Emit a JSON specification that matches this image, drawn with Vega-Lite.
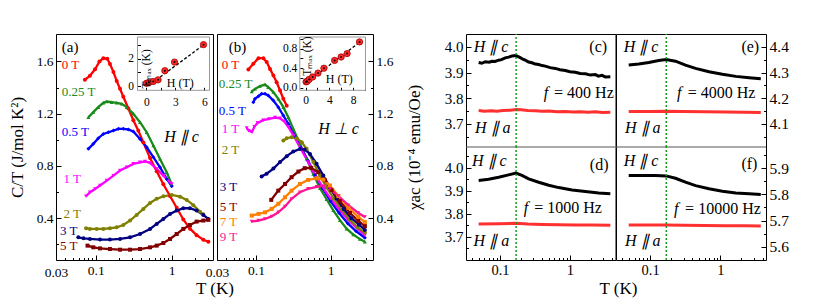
{
"$schema": "https://vega.github.io/schema/vega-lite/v6.json",
"background": "white",
"padding": {"left": 8, "top": 32, "right": 2, "bottom": 2},
"spacing": 0,
"bounds": "flush",
"config": {
  "font": "Liberation Serif, Times New Roman, serif",
  "view": {"stroke": "black", "strokeWidth": 1},
  "axis": {"grid": false, "domain": false, "labelFont": "Liberation Serif, Times New Roman, serif", "titleFont": "Liberation Serif, Times New Roman, serif", "labelColor": "black", "titleColor": "black", "tickColor": "black", "labelFontSize": 13.5, "titleFontSize": 17, "titleFontWeight": "normal", "tickSize": -4, "labelPadding": 8, "labelFlush": false, "labelOverlap": false, "tickWidth": 1},
  "text": {"font": "Liberation Serif, Times New Roman, serif"}
},
"datasets": {
 "a": [
  {"s":"0 T","T":0.072,"v":1.46},{"s":"0 T","T":0.084,"v":1.49},{"s":"0 T","T":0.098,"v":1.54},{"s":"0 T","T":0.112,"v":1.6},{"s":"0 T","T":0.126,"v":1.625},{"s":"0 T","T":0.142,"v":1.62},{"s":"0 T","T":0.154,"v":1.58},{"s":"0 T","T":0.171,"v":1.52},{"s":"0 T","T":0.189,"v":1.45},{"s":"0 T","T":0.209,"v":1.39},{"s":"0 T","T":0.231,"v":1.33},{"s":"0 T","T":0.269,"v":1.24},{"s":"0 T","T":0.313,"v":1.15},{"s":"0 T","T":0.364,"v":1.07},{"s":"0 T","T":0.424,"v":0.98},{"s":"0 T","T":0.519,"v":0.86},{"s":"0 T","T":0.635,"v":0.76},{"s":"0 T","T":0.777,"v":0.66},{"s":"0 T","T":0.951,"v":0.57},{"s":"0 T","T":1.164,"v":0.48},{"s":"0 T","T":1.424,"v":0.39},{"s":"0 T","T":1.74,"v":0.32},{"s":"0 T","T":2.13,"v":0.27},{"s":"0 T","T":2.61,"v":0.235},{"s":"0 T","T":3.04,"v":0.22},
  {"s":"0.25 T","T":0.08,"v":1.173},{"s":"0.25 T","T":0.093,"v":1.212},{"s":"0.25 T","T":0.108,"v":1.25},{"s":"0.25 T","T":0.126,"v":1.283},{"s":"0.25 T","T":0.14,"v":1.293},{"s":"0.25 T","T":0.162,"v":1.288},{"s":"0.25 T","T":0.189,"v":1.283},{"s":"0.25 T","T":0.22,"v":1.275},{"s":"0.25 T","T":0.256,"v":1.25},{"s":"0.25 T","T":0.313,"v":1.199},{"s":"0.25 T","T":0.383,"v":1.135},{"s":"0.25 T","T":0.469,"v":1.058},{"s":"0.25 T","T":0.574,"v":0.956},{"s":"0.25 T","T":0.702,"v":0.854},{"s":"0.25 T","T":0.86,"v":0.752},{"s":"0.25 T","T":1.0,"v":0.66},
  {"s":"0.5 T","T":0.08,"v":0.931},{"s":"0.5 T","T":0.093,"v":0.969},{"s":"0.5 T","T":0.108,"v":1.012},{"s":"0.5 T","T":0.126,"v":1.045},{"s":"0.5 T","T":0.147,"v":1.058},{"s":"0.5 T","T":0.171,"v":1.071},{"s":"0.5 T","T":0.199,"v":1.084},{"s":"0.5 T","T":0.231,"v":1.084},{"s":"0.5 T","T":0.269,"v":1.079},{"s":"0.5 T","T":0.313,"v":1.063},{"s":"0.5 T","T":0.383,"v":1.007},{"s":"0.5 T","T":0.469,"v":0.943},{"s":"0.5 T","T":0.574,"v":0.867},{"s":"0.5 T","T":0.702,"v":0.79},{"s":"0.5 T","T":0.86,"v":0.701},{"s":"0.5 T","T":1.0,"v":0.645},
  {"s":"1 T","T":0.0746,"v":0.568},{"s":"1 T","T":0.084,"v":0.599},{"s":"1 T","T":0.098,"v":0.624},{"s":"1 T","T":0.114,"v":0.65},{"s":"1 T","T":0.14,"v":0.688},{"s":"1 T","T":0.171,"v":0.726},{"s":"1 T","T":0.209,"v":0.765},{"s":"1 T","T":0.256,"v":0.79},{"s":"1 T","T":0.313,"v":0.816},{"s":"1 T","T":0.383,"v":0.828},{"s":"1 T","T":0.446,"v":0.834},{"s":"1 T","T":0.519,"v":0.823},{"s":"1 T","T":0.635,"v":0.777},{"s":"1 T","T":0.777,"v":0.726},{"s":"1 T","T":1.0,"v":0.662},
  {"s":"2 T","T":0.0746,"v":0.323},{"s":"2 T","T":0.084,"v":0.318},{"s":"2 T","T":0.103,"v":0.318},{"s":"2 T","T":0.126,"v":0.318},{"s":"2 T","T":0.154,"v":0.323},{"s":"2 T","T":0.189,"v":0.33},{"s":"2 T","T":0.231,"v":0.348},{"s":"2 T","T":0.283,"v":0.382},{"s":"2 T","T":0.346,"v":0.425},{"s":"2 T","T":0.424,"v":0.471},{"s":"2 T","T":0.519,"v":0.517},{"s":"2 T","T":0.635,"v":0.548},{"s":"2 T","T":0.777,"v":0.568},{"s":"2 T","T":1.0,"v":0.578},{"s":"2 T","T":1.29,"v":0.565},{"s":"2 T","T":1.58,"v":0.54},{"s":"2 T","T":1.93,"v":0.5},{"s":"2 T","T":2.36,"v":0.45},{"s":"2 T","T":2.6,"v":0.43},
  {"s":"3 T","T":0.059,"v":0.254},{"s":"3 T","T":0.069,"v":0.246},{"s":"3 T","T":0.084,"v":0.241},{"s":"3 T","T":0.114,"v":0.236},{"s":"3 T","T":0.154,"v":0.236},{"s":"3 T","T":0.209,"v":0.241},{"s":"3 T","T":0.283,"v":0.254},{"s":"3 T","T":0.383,"v":0.279},{"s":"3 T","T":0.519,"v":0.318},{"s":"3 T","T":0.635,"v":0.356},{"s":"3 T","T":0.777,"v":0.394},{"s":"3 T","T":0.951,"v":0.433},{"s":"3 T","T":1.164,"v":0.458},{"s":"3 T","T":1.424,"v":0.476},{"s":"3 T","T":1.74,"v":0.476},{"s":"3 T","T":2.13,"v":0.458},{"s":"3 T","T":2.61,"v":0.425},{"s":"3 T","T":3.04,"v":0.394},
  {"s":"5 T","T":0.078,"v":0.19},{"s":"5 T","T":0.093,"v":0.177},{"s":"5 T","T":0.114,"v":0.169},{"s":"5 T","T":0.154,"v":0.164},{"s":"5 T","T":0.209,"v":0.159},{"s":"5 T","T":0.283,"v":0.159},{"s":"5 T","T":0.383,"v":0.164},{"s":"5 T","T":0.519,"v":0.177},{"s":"5 T","T":0.635,"v":0.19},{"s":"5 T","T":0.777,"v":0.21},{"s":"5 T","T":0.951,"v":0.241},{"s":"5 T","T":1.164,"v":0.279},{"s":"5 T","T":1.424,"v":0.318},{"s":"5 T","T":1.74,"v":0.348},{"s":"5 T","T":2.13,"v":0.374},{"s":"5 T","T":2.61,"v":0.382},{"s":"5 T","T":3.04,"v":0.387}
 ],
 "alab": [
  {"s":"0 T","label":"0 T","T":0.0357,"v":1.575},{"s":"0.25 T","label":"0.25 T","T":0.0357,"v":1.365},{"s":"0.5 T","label":"0.5 T","T":0.0357,"v":1.062},{"s":"1 T","label":"1 T","T":0.0376,"v":0.698},{"s":"2 T","label":"2 T","T":0.0376,"v":0.43},{"s":"3 T","label":"3 T","T":0.0339,"v":0.3},{"s":"5 T","label":"5 T","T":0.0339,"v":0.185}
 ],
 "b": [
  {"s":"0 T","T":0.079,"v":1.538},{"s":"0 T","T":0.092,"v":1.582},{"s":"0 T","T":0.108,"v":1.625},{"s":"0 T","T":0.1255,"v":1.625},{"s":"0 T","T":0.139,"v":1.595},{"s":"0 T","T":0.154,"v":1.543},{"s":"0 T","T":0.171,"v":1.492},{"s":"0 T","T":0.189,"v":1.441},{"s":"0 T","T":0.21,"v":1.378},{"s":"0 T","T":0.2325,"v":1.314},{"s":"0 T","T":0.258,"v":1.26},
  {"s":"0.25 T","T":0.0876,"v":1.37},{"s":"0.25 T","T":0.097,"v":1.39},{"s":"0.25 T","T":0.113,"v":1.411},{"s":"0.25 T","T":0.132,"v":1.423},{"s":"0.25 T","T":0.146,"v":1.403},{"s":"0.25 T","T":0.171,"v":1.365},{"s":"0.25 T","T":0.199,"v":1.314},{"s":"0.25 T","T":0.2325,"v":1.25},{"s":"0.25 T","T":0.271,"v":1.173},{"s":"0.25 T","T":0.316,"v":1.084},{"s":"0.25 T","T":0.389,"v":0.969},{"s":"0.25 T","T":0.477,"v":0.854},{"s":"0.25 T","T":0.586,"v":0.739},{"s":"0.25 T","T":0.72,"v":0.63},{"s":"0.25 T","T":0.884,"v":0.545},{"s":"0.25 T","T":1.086,"v":0.46},{"s":"0.25 T","T":1.334,"v":0.385},{"s":"0.25 T","T":1.638,"v":0.32},{"s":"0.25 T","T":2.012,"v":0.275},{"s":"0.25 T","T":2.47,"v":0.24},{"s":"0.25 T","T":2.88,"v":0.22},
  {"s":"0.5 T","T":0.092,"v":1.288},{"s":"0.5 T","T":0.097,"v":1.314},{"s":"0.5 T","T":0.108,"v":1.334},{"s":"0.5 T","T":0.119,"v":1.352},{"s":"0.5 T","T":0.132,"v":1.352},{"s":"0.5 T","T":0.146,"v":1.339},{"s":"0.5 T","T":0.171,"v":1.3},{"s":"0.5 T","T":0.199,"v":1.25},{"s":"0.5 T","T":0.2325,"v":1.186},{"s":"0.5 T","T":0.271,"v":1.122},{"s":"0.5 T","T":0.33,"v":1.03},{"s":"0.5 T","T":0.4,"v":0.94},{"s":"0.5 T","T":0.5,"v":0.84},{"s":"0.5 T","T":0.62,"v":0.73},{"s":"0.5 T","T":0.78,"v":0.63},{"s":"0.5 T","T":1.0,"v":0.53},{"s":"0.5 T","T":1.3,"v":0.44},{"s":"0.5 T","T":1.7,"v":0.36},{"s":"0.5 T","T":2.2,"v":0.3},{"s":"0.5 T","T":2.88,"v":0.25},
  {"s":"1 T","T":0.075,"v":1.09},{"s":"1 T","T":0.08,"v":1.07},{"s":"1 T","T":0.088,"v":1.06},{"s":"1 T","T":0.095,"v":1.1},{"s":"1 T","T":0.105,"v":1.13},{"s":"1 T","T":0.125,"v":1.15},{"s":"1 T","T":0.15,"v":1.16},{"s":"1 T","T":0.18,"v":1.17},{"s":"1 T","T":0.21,"v":1.165},{"s":"1 T","T":0.24,"v":1.14},{"s":"1 T","T":0.27,"v":1.1},{"s":"1 T","T":0.32,"v":1.03},{"s":"1 T","T":0.4,"v":0.93},{"s":"1 T","T":0.5,"v":0.83},{"s":"1 T","T":0.65,"v":0.71},{"s":"1 T","T":0.8,"v":0.63},{"s":"1 T","T":1.0,"v":0.55},{"s":"1 T","T":1.3,"v":0.47},{"s":"1 T","T":1.7,"v":0.39},{"s":"1 T","T":2.2,"v":0.33},{"s":"1 T","T":2.88,"v":0.27},
  {"s":"2 T","T":0.2325,"v":0.994},{"s":"2 T","T":0.258,"v":1.012},{"s":"2 T","T":0.3,"v":1.02},{"s":"2 T","T":0.351,"v":1.012},{"s":"2 T","T":0.41,"v":0.982},{"s":"2 T","T":0.477,"v":0.931},{"s":"2 T","T":0.586,"v":0.83},{"s":"2 T","T":0.72,"v":0.726},{"s":"2 T","T":0.884,"v":0.635},{"s":"2 T","T":1.1,"v":0.55},{"s":"2 T","T":1.4,"v":0.47},{"s":"2 T","T":1.8,"v":0.39},{"s":"2 T","T":2.3,"v":0.33},{"s":"2 T","T":2.88,"v":0.29},
  {"s":"3 T","T":0.119,"v":0.72},{"s":"3 T","T":0.139,"v":0.74},{"s":"3 T","T":0.171,"v":0.78},{"s":"3 T","T":0.21,"v":0.83},{"s":"3 T","T":0.258,"v":0.875},{"s":"3 T","T":0.316,"v":0.91},{"s":"3 T","T":0.389,"v":0.93},{"s":"3 T","T":0.45,"v":0.925},{"s":"3 T","T":0.529,"v":0.892},{"s":"3 T","T":0.649,"v":0.816},{"s":"3 T","T":0.798,"v":0.726},{"s":"3 T","T":0.98,"v":0.635},{"s":"3 T","T":1.2,"v":0.55},{"s":"3 T","T":1.5,"v":0.47},{"s":"3 T","T":1.9,"v":0.4},{"s":"3 T","T":2.4,"v":0.35},{"s":"3 T","T":2.88,"v":0.31},
  {"s":"5 T","T":0.16,"v":0.54},{"s":"5 T","T":0.199,"v":0.611},{"s":"5 T","T":0.245,"v":0.662},{"s":"5 T","T":0.3,"v":0.714},{"s":"5 T","T":0.37,"v":0.757},{"s":"5 T","T":0.45,"v":0.783},{"s":"5 T","T":0.55,"v":0.785},{"s":"5 T","T":0.68,"v":0.752},{"s":"5 T","T":0.84,"v":0.69},{"s":"5 T","T":1.03,"v":0.615},{"s":"5 T","T":1.33,"v":0.53},{"s":"5 T","T":1.82,"v":0.44},{"s":"5 T","T":2.35,"v":0.38},{"s":"5 T","T":2.88,"v":0.34},
  {"s":"7 T","T":0.0876,"v":0.42},{"s":"7 T","T":0.108,"v":0.433},{"s":"7 T","T":0.132,"v":0.445},{"s":"7 T","T":0.162,"v":0.471},{"s":"7 T","T":0.199,"v":0.51},{"s":"7 T","T":0.245,"v":0.56},{"s":"7 T","T":0.3,"v":0.611},{"s":"7 T","T":0.389,"v":0.662},{"s":"7 T","T":0.5,"v":0.693},{"s":"7 T","T":0.649,"v":0.705},{"s":"7 T","T":0.798,"v":0.695},{"s":"7 T","T":0.98,"v":0.65},{"s":"7 T","T":1.27,"v":0.57},{"s":"7 T","T":1.73,"v":0.48},{"s":"7 T","T":2.35,"v":0.41},{"s":"7 T","T":2.88,"v":0.37},
  {"s":"9 T","T":0.0876,"v":0.374},{"s":"9 T","T":0.108,"v":0.382},{"s":"9 T","T":0.132,"v":0.394},{"s":"9 T","T":0.162,"v":0.414},{"s":"9 T","T":0.199,"v":0.445},{"s":"9 T","T":0.245,"v":0.49},{"s":"9 T","T":0.3,"v":0.548},{"s":"9 T","T":0.389,"v":0.599},{"s":"9 T","T":0.5,"v":0.625},{"s":"9 T","T":0.649,"v":0.64},{"s":"9 T","T":0.8,"v":0.645},{"s":"9 T","T":0.98,"v":0.625},{"s":"9 T","T":1.27,"v":0.57},{"s":"9 T","T":1.73,"v":0.5},{"s":"9 T","T":2.35,"v":0.44},{"s":"9 T","T":2.88,"v":0.41}
 ],
 "blab": [
  {"s":"0 T","label":"0 T","T":0.0348,"v":1.572},{"s":"0.25 T","label":"0.25 T","T":0.0317,"v":1.426},{"s":"0.5 T","label":"0.5 T","T":0.0317,"v":1.219},{"s":"1 T","label":"1 T","T":0.0348,"v":1.085},{"s":"2 T","label":"2 T","T":0.0348,"v":0.92},{"s":"3 T","label":"3 T","T":0.0327,"v":0.641},{"s":"5 T","label":"5 T","T":0.0327,"v":0.488},{"s":"7 T","label":"7 T","T":0.0327,"v":0.373},{"s":"9 T","label":"9 T","T":0.0327,"v":0.258}
 ],
 "ia": [{"H":0,"Tm":0.2},{"H":0.25,"Tm":0.25},{"H":0.7,"Tm":0.33},{"H":1.2,"Tm":0.45},{"H":1.9,"Tm":1.12},{"H":2.9,"Tm":1.75},{"H":5.9,"Tm":3.03}],
 "ib": [{"H":0.1,"Tm":0.12},{"H":0.25,"Tm":0.13},{"H":0.6,"Tm":0.17},{"H":1.2,"Tm":0.22},{"H":2.1,"Tm":0.3},{"H":3.1,"Tm":0.4},{"H":4.9,"Tm":0.56},{"H":6.0,"Tm":0.63},{"H":7.0,"Tm":0.7},{"H":9.1,"Tm":0.94}],
 "c": [
  {"s":"Hc","T":0.0496,"v":3.939},{"s":"Hc","T":0.055,"v":3.936},{"s":"Hc","T":0.0617,"v":3.942},{"s":"Hc","T":0.07,"v":3.94},{"s":"Hc","T":0.0769,"v":3.944},{"s":"Hc","T":0.085,"v":3.943},{"s":"Hc","T":0.0958,"v":3.948},{"s":"Hc","T":0.105,"v":3.95},{"s":"Hc","T":0.119,"v":3.957},{"s":"Hc","T":0.133,"v":3.96},{"s":"Hc","T":0.148,"v":3.964},{"s":"Hc","T":0.169,"v":3.966},{"s":"Hc","T":0.182,"v":3.962},{"s":"Hc","T":0.195,"v":3.958},{"s":"Hc","T":0.212,"v":3.952},{"s":"Hc","T":0.23,"v":3.948},{"s":"Hc","T":0.256,"v":3.941},{"s":"Hc","T":0.286,"v":3.938},{"s":"Hc","T":0.32,"v":3.933},{"s":"Hc","T":0.357,"v":3.931},{"s":"Hc","T":0.4,"v":3.927},{"s":"Hc","T":0.444,"v":3.925},{"s":"Hc","T":0.52,"v":3.919},{"s":"Hc","T":0.617,"v":3.916},{"s":"Hc","T":0.72,"v":3.911},{"s":"Hc","T":0.857,"v":3.908},{"s":"Hc","T":1.0,"v":3.903},{"s":"Hc","T":1.19,"v":3.901},{"s":"Hc","T":1.4,"v":3.896},{"s":"Hc","T":1.66,"v":3.895},{"s":"Hc","T":1.95,"v":3.89},{"s":"Hc","T":2.3,"v":3.892},{"s":"Hc","T":2.55,"v":3.886},{"s":"Hc","T":2.86,"v":3.889},{"s":"Hc","T":3.2,"v":3.883},{"s":"Hc","T":3.77,"v":3.884},
  {"s":"Ha","T":0.0496,"v":3.752},{"s":"Ha","T":0.06,"v":3.749},{"s":"Ha","T":0.075,"v":3.751},{"s":"Ha","T":0.09,"v":3.749},{"s":"Ha","T":0.11,"v":3.752},{"s":"Ha","T":0.14,"v":3.753},{"s":"Ha","T":0.17,"v":3.756},{"s":"Ha","T":0.2,"v":3.755},{"s":"Ha","T":0.25,"v":3.752},{"s":"Ha","T":0.32,"v":3.751},{"s":"Ha","T":0.4,"v":3.749},{"s":"Ha","T":0.5,"v":3.75},{"s":"Ha","T":0.65,"v":3.747},{"s":"Ha","T":0.85,"v":3.748},{"s":"Ha","T":1.1,"v":3.746},{"s":"Ha","T":1.4,"v":3.747},{"s":"Ha","T":1.8,"v":3.745},{"s":"Ha","T":2.3,"v":3.747},{"s":"Ha","T":2.9,"v":3.744},{"s":"Ha","T":3.77,"v":3.745}
 ],
 "d": [
  {"s":"Hc","T":0.0496,"v":3.945},{"s":"Hc","T":0.0689,"v":3.95},{"s":"Hc","T":0.0958,"v":3.959},{"s":"Hc","T":0.133,"v":3.969},{"s":"Hc","T":0.169,"v":3.977},{"s":"Hc","T":0.206,"v":3.967},{"s":"Hc","T":0.257,"v":3.952},{"s":"Hc","T":0.357,"v":3.937},{"s":"Hc","T":0.497,"v":3.924},{"s":"Hc","T":0.69,"v":3.914},{"s":"Hc","T":1.07,"v":3.904},{"s":"Hc","T":1.66,"v":3.897},{"s":"Hc","T":2.57,"v":3.891},{"s":"Hc","T":3.77,"v":3.887},
  {"s":"Ha","T":0.0496,"v":3.756},{"s":"Ha","T":0.1,"v":3.757},{"s":"Ha","T":0.17,"v":3.759},{"s":"Ha","T":0.25,"v":3.756},{"s":"Ha","T":0.4,"v":3.754},{"s":"Ha","T":0.7,"v":3.753},{"s":"Ha","T":1.2,"v":3.752},{"s":"Ha","T":2.0,"v":3.752},{"s":"Ha","T":3.77,"v":3.751}
 ],
 "e": [
  {"s":"Hc","T":0.0496,"v":4.329},{"s":"Hc","T":0.069,"v":4.333},{"s":"Hc","T":0.0957,"v":4.339},{"s":"Hc","T":0.133,"v":4.347},{"s":"Hc","T":0.169,"v":4.351},{"s":"Hc","T":0.23,"v":4.344},{"s":"Hc","T":0.319,"v":4.329},{"s":"Hc","T":0.444,"v":4.316},{"s":"Hc","T":0.69,"v":4.303},{"s":"Hc","T":1.07,"v":4.293},{"s":"Hc","T":1.66,"v":4.285},{"s":"Hc","T":2.57,"v":4.28},{"s":"Hc","T":3.77,"v":4.276},
  {"s":"Ha","T":0.0496,"v":4.148},{"s":"Ha","T":0.1,"v":4.148},{"s":"Ha","T":0.17,"v":4.149},{"s":"Ha","T":0.3,"v":4.148},{"s":"Ha","T":0.6,"v":4.147},{"s":"Ha","T":1.2,"v":4.146},{"s":"Ha","T":2.2,"v":4.145},{"s":"Ha","T":3.77,"v":4.144}
 ],
 "f": [
  {"s":"Hc","T":0.0496,"v":5.872},{"s":"Hc","T":0.0769,"v":5.872},{"s":"Hc","T":0.119,"v":5.872},{"s":"Hc","T":0.169,"v":5.87},{"s":"Hc","T":0.23,"v":5.861},{"s":"Hc","T":0.319,"v":5.846},{"s":"Hc","T":0.444,"v":5.833},{"s":"Hc","T":0.69,"v":5.821},{"s":"Hc","T":1.07,"v":5.812},{"s":"Hc","T":1.66,"v":5.805},{"s":"Hc","T":2.57,"v":5.802},{"s":"Hc","T":3.77,"v":5.799},
  {"s":"Ha","T":0.0496,"v":5.683},{"s":"Ha","T":0.1,"v":5.683},{"s":"Ha","T":0.17,"v":5.683},{"s":"Ha","T":0.3,"v":5.682},{"s":"Ha","T":0.6,"v":5.681},{"s":"Ha","T":1.2,"v":5.68},{"s":"Ha","T":2.2,"v":5.68},{"s":"Ha","T":3.77,"v":5.679}
 ]
},
"hconcat": [
 {
  "width": 157, "height": 226,
  "layer": [
   {
    "data": {"name": "a"},
    "encoding": {
     "x": {"field": "T", "type": "quantitative", "scale": {"type": "log", "domain": [0.03, 3.5], "nice": false},
       "axis": {"orient": "bottom", "values": [0.03,0.04,0.05,0.06,0.07,0.08,0.09,0.1,0.2,0.3,0.4,0.5,0.6,0.7,0.8,0.9,1,2,3], "labelExpr": "datum.value == 0.03 ? '0.03' : datum.value == 0.1 ? '0.1' : datum.value == 1 ? '1' : ''", "tickSize": {"condition": {"test": "datum.value == 0.1 || datum.value == 1", "value": -5}, "value": -2.5}, "title": "T (K)", "titleX": 158.5, "titleY": 28, "titleBaseline": "middle", "titleAlign": "center"}},
     "y": {"field": "v", "type": "quantitative", "scale": {"domain": [0.08, 1.81], "nice": false, "zero": false},
       "axis": {"orient": "left", "values": [0.2,0.4,0.6,0.8,1.0,1.2,1.4,1.6], "labelExpr": "indexof([0.4,0.8,1.2,1.6], datum.value) >= 0 ? format(datum.value, '.1f') : ''", "tickSize": {"condition": {"test": "indexof([0.4,0.8,1.2,1.6], datum.value) >= 0", "value": -5}, "value": -2.5}, "title": "C/T (J/mol K²)", "titleX": -29.5, "titleY": 113, "titleAngle": 270, "titleBaseline": "bottom", "titleAlign": "center"}},
     "color": {"field": "s", "type": "nominal", "scale": {"domain": ["0 T","0.25 T","0.5 T","1 T","2 T","3 T","5 T","7 T","9 T","Hc","Ha"], "range": ["#ff0000","#1a8a1a","#0000ff","#ff00ff","#808000","#000080","#800000","#ff8000","#ff1493","#000000","#ff3030"]}, "legend": null}
    },
    "layer": [
     {"mark": {"type": "line", "strokeWidth": 2.3}},
     {"mark": {"type": "point", "filled": true, "size": 16, "opacity": 1}, "encoding": {"shape": {"field": "s", "type": "nominal", "scale": {"domain": ["0 T","0.25 T","0.5 T","1 T","2 T","3 T","5 T","7 T","9 T"], "range": ["circle","triangle-up","diamond","triangle-down","circle","circle","square","square","triangle-down"]}, "legend": null}}},
     {"data": {"name": "alab"}, "mark": {"type": "text", "align": "left", "baseline": "middle", "fontSize": 13}, "encoding": {"text": {"field": "label"}}},
     {"data": {"values": [{"T": 0.0357, "v": 1.713, "label": "(a)"}]}, "mark": {"type": "text", "align": "left", "baseline": "middle", "fontSize": 15}, "encoding": {"text": {"field": "label"}, "color": {"value": "black"}}},
     {"data": {"values": [{"T": 1.35, "v": 1.02, "label": "H ∥ c"}]}, "mark": {"type": "text", "align": "center", "baseline": "middle", "fontSize": 16, "fontStyle": "italic"}, "encoding": {"text": {"field": "label"}, "color": {"value": "black"}}}
    ]
   },
   {
    "data": {"name": "ia"},
    "encoding": {
     "x": {"field": "H", "type": "quantitative", "scale": {"domain": [-0.93, 6.52], "range": [81.5, 153.5], "nice": false, "zero": false}, "axis": {"orient": "bottom", "offset": -169.7, "values": [0, 1.5, 3, 4.5, 6], "labelExpr": "datum.value % 3 == 0 ? format(datum.value, 'd') : ''", "title": null, "labelFontSize": 11.5, "tickSize": -3, "labelPadding": 9}},
     "y": {"field": "Tm", "type": "quantitative", "scale": {"domain": [-0.315, 3.59], "range": [56.3, 3], "nice": false, "zero": false}, "axis": {"orient": "left", "offset": -81.5, "values": [0, 1, 2, 3], "labelExpr": "datum.value % 2 == 0 ? format(datum.value, 'd') : ''", "title": null, "labelFontSize": 11.5, "tickSize": -3, "labelPadding": 7}}
    },
    "layer": [
     {"data": {"values": [{"H": -0.93, "Tm": -0.315, "o": 0}, {"H": 6.52, "Tm": -0.315, "o": 1}, {"H": 6.52, "Tm": 3.59, "o": 2}, {"H": -0.93, "Tm": 3.59, "o": 3}, {"H": -0.93, "Tm": -0.315, "o": 4}]}, "mark": {"type": "line", "color": "#999999", "strokeWidth": 1}, "encoding": {"order": {"field": "o", "type": "quantitative"}}},
     {"data": {"values": [{"H": 0.17, "Tm": 0}, {"H": 6.07, "Tm": 3.1}]}, "mark": {"type": "line", "color": "black", "strokeDash": [3, 2], "strokeWidth": 1.3}},
     {"mark": {"type": "point", "shape": "circle", "filled": true, "size": 40, "fill": "#ff2a2a", "stroke": "#a00000", "strokeWidth": 0.8, "opacity": 1}},
     {"mark": {"type": "point", "shape": "circle", "filled": true, "size": 4, "color": "black", "opacity": 1}},
     {"data": {"values": [{"H": 0.1, "Tm": 1.25, "label": "Tₘₐₓ (K)"}]}, "mark": {"type": "text", "angle": 270, "align": "center", "baseline": "middle", "fontSize": 11.5}, "encoding": {"text": {"field": "label"}}},
     {"data": {"values": [{"H": 3.5, "Tm": 0.2, "label": "H (T)"}]}, "mark": {"type": "text", "align": "center", "baseline": "middle", "fontSize": 12}, "encoding": {"text": {"field": "label"}}}
    ]
   }
  ],
  "resolve": {"scale": {"x": "independent", "y": "independent"}}
 },
 {"width": 4, "height": 226, "view": {"stroke": null}, "data": {"values": [{}]}, "mark": {"type": "point", "opacity": 0}},
 {
  "width": 156, "height": 226,
  "layer": [
   {
    "data": {"name": "b"},
    "encoding": {
     "x": {"field": "T", "type": "quantitative", "scale": {"type": "log", "domain": [0.03, 3.7], "nice": false},
       "axis": {"orient": "bottom", "values": [0.03,0.04,0.05,0.06,0.07,0.08,0.09,0.1,0.2,0.3,0.4,0.5,0.6,0.7,0.8,0.9,1,2,3], "labelExpr": "datum.value == 0.03 ? '0.03' : datum.value == 0.1 ? '0.1' : datum.value == 1 ? '1' : ''", "tickSize": {"condition": {"test": "datum.value == 0.1 || datum.value == 1", "value": -5}, "value": -2.5}, "title": null}},
     "y": {"field": "v", "type": "quantitative", "scale": {"domain": [0.08, 1.81], "nice": false, "zero": false},
       "axis": {"orient": "right", "values": [0.2,0.4,0.6,0.8,1.0,1.2,1.4,1.6], "labelExpr": "indexof([0.4,0.8,1.2,1.6], datum.value) >= 0 ? format(datum.value, '.1f') : ''", "tickSize": {"condition": {"test": "indexof([0.4,0.8,1.2,1.6], datum.value) >= 0", "value": -5}, "value": -2.5}, "title": null}},
     "color": {"field": "s", "type": "nominal", "scale": {"domain": ["0 T","0.25 T","0.5 T","1 T","2 T","3 T","5 T","7 T","9 T","Hc","Ha"], "range": ["#ff0000","#1a8a1a","#0000ff","#ff00ff","#808000","#000080","#800000","#ff8000","#ff1493","#000000","#ff3030"]}, "legend": null}
    },
    "layer": [
     {"mark": {"type": "line", "strokeWidth": 2.3}},
     {"mark": {"type": "point", "filled": true, "size": 16, "opacity": 1}, "encoding": {"shape": {"field": "s", "type": "nominal", "scale": {"domain": ["0 T","0.25 T","0.5 T","1 T","2 T","3 T","5 T","7 T","9 T"], "range": ["circle","triangle-up","diamond","triangle-down","circle","circle","square","square","triangle-down"]}, "legend": null}}},
     {"data": {"name": "blab"}, "mark": {"type": "text", "align": "left", "baseline": "middle", "fontSize": 13}, "encoding": {"text": {"field": "label"}}},
     {"data": {"values": [{"T": 0.0431, "v": 1.71, "label": "(b)"}]}, "mark": {"type": "text", "align": "left", "baseline": "middle", "fontSize": 15}, "encoding": {"text": {"field": "label"}, "color": {"value": "black"}}},
     {"data": {"values": [{"T": 1.28, "v": 1.08, "label": "H ⊥ c"}]}, "mark": {"type": "text", "align": "center", "baseline": "middle", "fontSize": 16, "fontStyle": "italic"}, "encoding": {"text": {"field": "label"}, "color": {"value": "black"}}}
    ]
   },
   {
    "data": {"name": "ib"},
    "encoding": {
     "x": {"field": "H", "type": "quantitative", "scale": {"domain": [-0.96, 10.1], "range": [82.8, 148.5], "nice": false, "zero": false}, "axis": {"orient": "bottom", "offset": -169.7, "values": [0, 2, 4, 6, 8, 10], "labelExpr": "datum.value % 4 == 0 ? format(datum.value, 'd') : ''", "title": null, "labelFontSize": 11.5, "tickSize": -3, "labelPadding": 7}},
     "y": {"field": "Tm", "type": "quantitative", "scale": {"domain": [-0.053, 1.04], "range": [56.3, 3], "nice": false, "zero": false}, "axis": {"orient": "left", "offset": -82.8, "values": [0, 0.2, 0.4, 0.6, 0.8, 1.0], "labelExpr": "indexof([0,0.4,0.8], datum.value) >= 0 ? format(datum.value, '.1f') : ''", "title": null, "labelFontSize": 11.5, "tickSize": -3, "labelPadding": 6}}
    },
    "layer": [
     {"data": {"values": [{"H": -0.96, "Tm": -0.053, "o": 0}, {"H": 10.1, "Tm": -0.053, "o": 1}, {"H": 10.1, "Tm": 1.04, "o": 2}, {"H": -0.96, "Tm": 1.04, "o": 3}, {"H": -0.96, "Tm": -0.053, "o": 4}]}, "mark": {"type": "line", "color": "#999999", "strokeWidth": 1}, "encoding": {"order": {"field": "o", "type": "quantitative"}}},
     {"data": {"values": [{"H": -0.1, "Tm": 0.08}, {"H": 9.4, "Tm": 0.96}]}, "mark": {"type": "line", "color": "black", "strokeDash": [3, 2], "strokeWidth": 1.3}},
     {"mark": {"type": "point", "shape": "circle", "filled": true, "size": 40, "fill": "#ff2a2a", "stroke": "#a00000", "strokeWidth": 0.8, "opacity": 1}},
     {"mark": {"type": "point", "shape": "circle", "filled": true, "size": 4, "color": "black", "opacity": 1}},
     {"data": {"values": [{"H": 0.34, "Tm": 0.65, "label": "Tₘₐₓ (K)"}]}, "mark": {"type": "text", "angle": 270, "align": "center", "baseline": "middle", "fontSize": 11.5}, "encoding": {"text": {"field": "label"}}},
     {"data": {"values": [{"H": 5.7, "Tm": 0.185, "label": "H (T)"}]}, "mark": {"type": "text", "align": "center", "baseline": "middle", "fontSize": 12}, "encoding": {"text": {"field": "label"}}}
    ]
   }
  ],
  "resolve": {"scale": {"x": "independent", "y": "independent"}}
 },
 {"width": 92.5, "height": 226, "view": {"stroke": null}, "data": {"values": [{}]}, "mark": {"type": "point", "opacity": 0}},
 {
  "width": 149.5, "height": 226,
  "layer": [
   {
    "data": {"name": "c"},
    "encoding": {
     "x": {"field": "T", "type": "quantitative", "scale": {"type": "log", "domain": [0.0327, 4.47], "nice": false},
       "axis": {"orient": "bottom", "values": [0.04,0.05,0.06,0.07,0.08,0.09,0.1,0.2,0.3,0.4,0.5,0.6,0.7,0.8,0.9,1,2,3,4], "labelExpr": "datum.value == 0.1 ? '0.1' : datum.value == 1 ? '1' : ''", "tickSize": {"condition": {"test": "datum.value == 0.1 || datum.value == 1", "value": -5}, "value": -2.5}, "title": "T (K)", "titleX": 152, "titleY": 28, "titleBaseline": "middle", "titleAlign": "center", "labelFontSize": 14.5}},
     "y": {"field": "v", "type": "quantitative", "scale": {"domain": [3.61, 4.05], "range": [113, 0], "nice": false, "zero": false},
       "axis": {"orient": "left", "offset": 0, "values": [3.65,3.7,3.75,3.8,3.85,3.9,3.95,4.0], "labelExpr": "indexof([3.7,3.8,3.9,4.0], datum.value) >= 0 ? format(datum.value, '.1f') : ''", "tickSize": {"condition": {"test": "indexof([3.7,3.8,3.9,4.0], datum.value) >= 0", "value": -5}, "value": -2.5}, "title": null, "labelFontSize": 15}},
     "color": {"field": "s", "type": "nominal", "scale": {"domain": ["0 T","0.25 T","0.5 T","1 T","2 T","3 T","5 T","7 T","9 T","Hc","Ha"], "range": ["#ff0000","#1a8a1a","#0000ff","#ff00ff","#808000","#000080","#800000","#ff8000","#ff1493","#000000","#ff3030"]}, "legend": null}
    },
    "layer": [
     {"mark": {"type": "line", "strokeWidth": 3}},
     {"data": {"values": [{"T": 0.0327, "T2": 4.47, "v": 3.61}]}, "mark": {"type": "rule", "strokeWidth": 1}, "encoding": {"x2": {"field": "T2"}, "color": {"value": "#555555"}}},
     {"data": {"values": [{"T": 0.17, "v": 3.61, "v2": 4.05}]}, "mark": {"type": "rule", "strokeDash": [2, 2], "strokeWidth": 1.5}, "encoding": {"y2": {"field": "v2"}, "color": {"value": "#1a9a1a"}}},
     {"data": {"values": [{"T": 0.0421, "v": 4.0, "label": "H ∥ c"}, {"T": 0.044, "v": 3.683, "label": "H ∥ a"}]}, "mark": {"type": "text", "align": "left", "baseline": "middle", "fontSize": 16, "fontStyle": "italic"}, "encoding": {"text": {"field": "label"}, "color": {"value": "black"}}},
     {"data": {"values": [{"T": 3.39, "v": 4.0, "label": "(c)"}, {"T": 4.22, "v": 3.819, "label": "= 400 Hz"}]}, "mark": {"type": "text", "align": "right", "baseline": "middle", "fontSize": 16}, "encoding": {"text": {"field": "label"}, "color": {"value": "black"}}},
     {"data": {"values": [{"T": 0.488, "v": 3.819, "label": "f"}]}, "mark": {"type": "text", "align": "right", "baseline": "middle", "fontSize": 16, "fontStyle": "italic"}, "encoding": {"text": {"field": "label"}, "color": {"value": "black"}}}
    ]
   },
   {
    "data": {"name": "d"},
    "encoding": {
     "x": {"field": "T", "type": "quantitative", "scale": {"type": "log", "domain": [0.0327, 4.47], "nice": false},
       "axis": {"orient": "bottom", "values": [0.04,0.05,0.06,0.07,0.08,0.09,0.1,0.2,0.3,0.4,0.5,0.6,0.7,0.8,0.9,1,2,3,4], "labelExpr": "datum.value == 0.1 ? '0.1' : datum.value == 1 ? '1' : ''", "tickSize": {"condition": {"test": "datum.value == 0.1 || datum.value == 1", "value": -5}, "value": -2.5}, "title": "T (K)", "titleX": 152, "titleY": 28, "titleBaseline": "middle", "titleAlign": "center", "labelFontSize": 14.5}},
     "y": {"field": "v", "type": "quantitative", "scale": {"domain": [3.6, 4.09], "range": [226, 113], "nice": false, "zero": false},
       "axis": {"orient": "left", "offset": 0, "values": [3.65,3.7,3.75,3.8,3.85,3.9,3.95,4.0,4.05], "labelExpr": "indexof([3.7,3.8,3.9,4.0], datum.value) >= 0 ? format(datum.value, '.1f') : ''", "tickSize": {"condition": {"test": "indexof([3.7,3.8,3.9,4.0], datum.value) >= 0", "value": -5}, "value": -2.5}, "title": "χac (10⁻⁴ emu/Oe)", "titleX": -43, "titleY": 113, "titleAngle": 270, "titleBaseline": "bottom", "titleAlign": "center", "labelFontSize": 15}},
     "color": {"field": "s", "type": "nominal", "scale": {"domain": ["0 T","0.25 T","0.5 T","1 T","2 T","3 T","5 T","7 T","9 T","Hc","Ha"], "range": ["#ff0000","#1a8a1a","#0000ff","#ff00ff","#808000","#000080","#800000","#ff8000","#ff1493","#000000","#ff3030"]}, "legend": null}
    },
    "layer": [
     {"mark": {"type": "line", "strokeWidth": 3}},
     {"data": {"values": [{"T": 0.17, "v": 3.6, "v2": 4.09}]}, "mark": {"type": "rule", "strokeDash": [2, 2], "strokeWidth": 1.5}, "encoding": {"y2": {"field": "v2"}, "color": {"value": "#1a9a1a"}}},
     {"data": {"values": [{"T": 0.0398, "v": 4.028, "label": "H ∥ c"}, {"T": 0.042, "v": 3.682, "label": "H ∥ a"}]}, "mark": {"type": "text", "align": "left", "baseline": "middle", "fontSize": 16, "fontStyle": "italic"}, "encoding": {"text": {"field": "label"}, "color": {"value": "black"}}},
     {"data": {"values": [{"T": 3.55, "v": 4.013, "label": "(d)"}, {"T": 2.86, "v": 3.824, "label": "= 1000 Hz"}]}, "mark": {"type": "text", "align": "right", "baseline": "middle", "fontSize": 16}, "encoding": {"text": {"field": "label"}, "color": {"value": "black"}}},
     {"data": {"values": [{"T": 0.253, "v": 3.824, "label": "f"}]}, "mark": {"type": "text", "align": "right", "baseline": "middle", "fontSize": 16, "fontStyle": "italic"}, "encoding": {"text": {"field": "label"}, "color": {"value": "black"}}}
    ]
   }
  ],
  "resolve": {"scale": {"y": "independent"}}
 },
 {
  "width": 150, "height": 226,
  "layer": [
   {
    "data": {"name": "e"},
    "encoding": {
     "x": {"field": "T", "type": "quantitative", "scale": {"type": "log", "domain": [0.0327, 4.47], "nice": false},
       "axis": {"orient": "bottom", "values": [0.04,0.05,0.06,0.07,0.08,0.09,0.1,0.2,0.3,0.4,0.5,0.6,0.7,0.8,0.9,1,2,3,4], "labelExpr": "datum.value == 0.1 ? '0.1' : datum.value == 1 ? '1' : ''", "tickSize": {"condition": {"test": "datum.value == 0.1 || datum.value == 1", "value": -5}, "value": -2.5}, "title": null, "labelFontSize": 14.5}},
     "y": {"field": "v", "type": "quantitative", "scale": {"domain": [4.01, 4.45], "range": [113, 0], "nice": false, "zero": false},
       "axis": {"orient": "right", "offset": 0, "values": [4.05,4.1,4.15,4.2,4.25,4.3,4.35,4.4], "labelExpr": "indexof([4.1,4.2,4.3,4.4], datum.value) >= 0 ? format(datum.value, '.1f') : ''", "tickSize": {"condition": {"test": "indexof([4.1,4.2,4.3,4.4], datum.value) >= 0", "value": -5}, "value": -2.5}, "title": null, "labelFontSize": 15.5}},
     "color": {"field": "s", "type": "nominal", "scale": {"domain": ["0 T","0.25 T","0.5 T","1 T","2 T","3 T","5 T","7 T","9 T","Hc","Ha"], "range": ["#ff0000","#1a8a1a","#0000ff","#ff00ff","#808000","#000080","#800000","#ff8000","#ff1493","#000000","#ff3030"]}, "legend": null}
    },
    "layer": [
     {"mark": {"type": "line", "strokeWidth": 3}},
     {"data": {"values": [{"T": 0.0327, "T2": 4.47, "v": 4.01}]}, "mark": {"type": "rule", "strokeWidth": 1}, "encoding": {"x2": {"field": "T2"}, "color": {"value": "#555555"}}},
     {"data": {"values": [{"T": 0.17, "v": 4.01, "v2": 4.45}]}, "mark": {"type": "rule", "strokeDash": [2, 2], "strokeWidth": 1.5}, "encoding": {"y2": {"field": "v2"}, "color": {"value": "#1a9a1a"}}},
     {"data": {"values": [{"T": 0.042, "v": 4.4, "label": "H ∥ c"}, {"T": 0.044, "v": 4.083, "label": "H ∥ a"}]}, "mark": {"type": "text", "align": "left", "baseline": "middle", "fontSize": 16, "fontStyle": "italic"}, "encoding": {"text": {"field": "label"}, "color": {"value": "black"}}},
     {"data": {"values": [{"T": 3.57, "v": 4.4, "label": "(e)"}, {"T": 3.16, "v": 4.219, "label": "= 4000 Hz"}]}, "mark": {"type": "text", "align": "right", "baseline": "middle", "fontSize": 16}, "encoding": {"text": {"field": "label"}, "color": {"value": "black"}}},
     {"data": {"values": [{"T": 0.279, "v": 4.219, "label": "f"}]}, "mark": {"type": "text", "align": "right", "baseline": "middle", "fontSize": 16, "fontStyle": "italic"}, "encoding": {"text": {"field": "label"}, "color": {"value": "black"}}}
    ]
   },
   {
    "data": {"name": "f"},
    "encoding": {
     "x": {"field": "T", "type": "quantitative", "scale": {"type": "log", "domain": [0.0327, 4.47], "nice": false},
       "axis": {"orient": "bottom", "values": [0.04,0.05,0.06,0.07,0.08,0.09,0.1,0.2,0.3,0.4,0.5,0.6,0.7,0.8,0.9,1,2,3,4], "labelExpr": "datum.value == 0.1 ? '0.1' : datum.value == 1 ? '1' : ''", "tickSize": {"condition": {"test": "datum.value == 0.1 || datum.value == 1", "value": -5}, "value": -2.5}, "title": null, "labelFontSize": 14.5}},
     "y": {"field": "v", "type": "quantitative", "scale": {"domain": [5.55, 5.98], "range": [226, 113], "nice": false, "zero": false},
       "axis": {"orient": "right", "offset": 0, "values": [5.6,5.65,5.7,5.75,5.8,5.85,5.9,5.95], "labelExpr": "indexof([5.6,5.7,5.8,5.9], datum.value) >= 0 ? format(datum.value, '.1f') : ''", "tickSize": {"condition": {"test": "indexof([5.6,5.7,5.8,5.9], datum.value) >= 0", "value": -5}, "value": -2.5}, "title": null, "labelFontSize": 15.5}},
     "color": {"field": "s", "type": "nominal", "scale": {"domain": ["0 T","0.25 T","0.5 T","1 T","2 T","3 T","5 T","7 T","9 T","Hc","Ha"], "range": ["#ff0000","#1a8a1a","#0000ff","#ff00ff","#808000","#000080","#800000","#ff8000","#ff1493","#000000","#ff3030"]}, "legend": null}
    },
    "layer": [
     {"mark": {"type": "line", "strokeWidth": 3}},
     {"data": {"values": [{"T": 0.17, "v": 5.55, "v2": 5.98}]}, "mark": {"type": "rule", "strokeDash": [2, 2], "strokeWidth": 1.5}, "encoding": {"y2": {"field": "v2"}, "color": {"value": "#1a9a1a"}}},
     {"data": {"values": [{"T": 0.042, "v": 5.925, "label": "H ∥ c"}, {"T": 0.044, "v": 5.622, "label": "H ∥ a"}]}, "mark": {"type": "text", "align": "left", "baseline": "middle", "fontSize": 16, "fontStyle": "italic"}, "encoding": {"text": {"field": "label"}, "color": {"value": "black"}}},
     {"data": {"values": [{"T": 3.37, "v": 5.915, "label": "(f)"}, {"T": 3.77, "v": 5.744, "label": "= 10000 Hz"}]}, "mark": {"type": "text", "align": "right", "baseline": "middle", "fontSize": 16}, "encoding": {"text": {"field": "label"}, "color": {"value": "black"}}},
     {"data": {"values": [{"T": 0.254, "v": 5.744, "label": "f"}]}, "mark": {"type": "text", "align": "right", "baseline": "middle", "fontSize": 16, "fontStyle": "italic"}, "encoding": {"text": {"field": "label"}, "color": {"value": "black"}}}
    ]
   }
  ],
  "resolve": {"scale": {"y": "independent"}}
 }
]
}
